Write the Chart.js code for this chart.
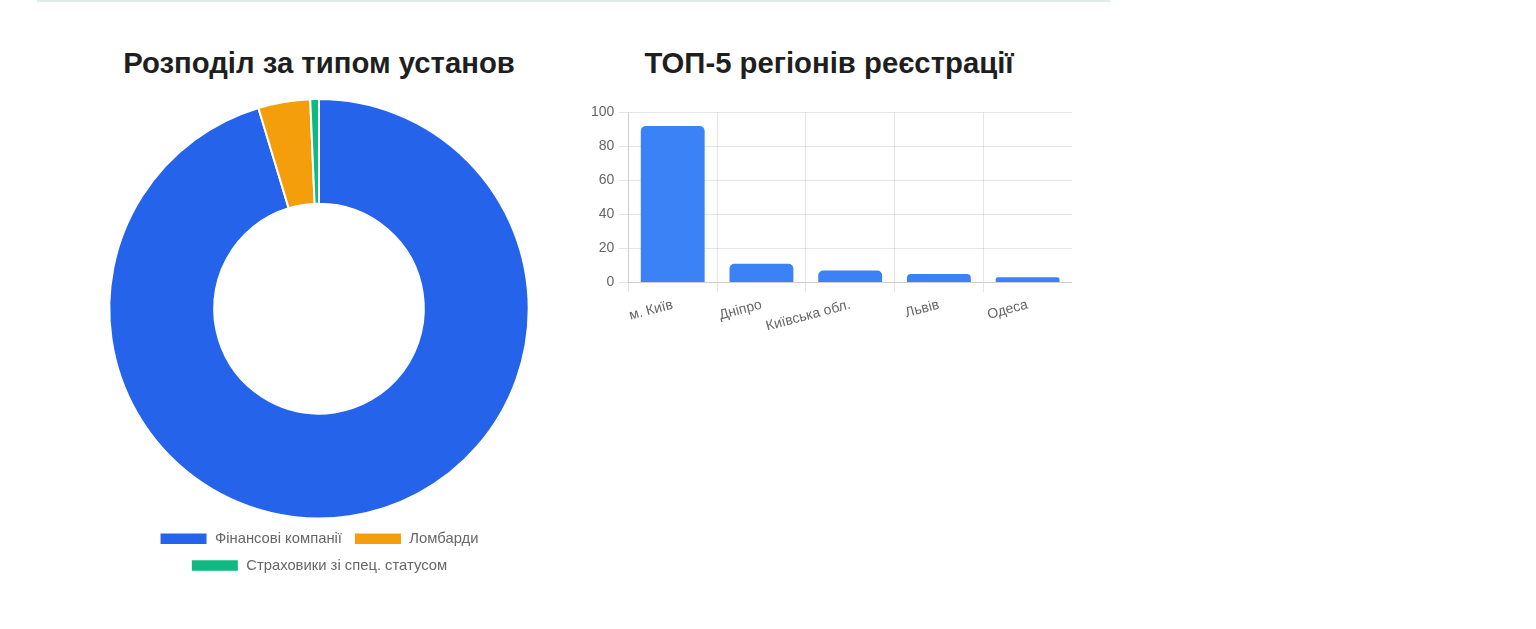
<!DOCTYPE html>
<html lang="uk">
<head>
<meta charset="utf-8">
<script src="https://cdn.jsdelivr.net/npm/chart.js@4.4.1/dist/chart.umd.min.js"></script>
<style>
    body { margin: 0; background: #fff; font-family: "Liberation Sans", Arial, sans-serif; }
    .linha { position: absolute; left: 37px; top: 0; width: 1073px; height: 2px; background: #e0ece6; }
    .titulo { position: absolute; margin: 0; font-size: 29.3px; font-weight: bold; color: #1f1f1f; text-align: center; width: 560px; }
    .caixa { position: absolute; }
</style>
</head>
<body>
<div class="linha"></div>
<h2 class="titulo" style="left:39px; top:46px;">Розподіл за типом установ</h2>
<h2 class="titulo" style="left:549px; top:46px;">ТОП-5 регіонів реєстрації</h2>
<div class="caixa" style="left:74px; top:98px; width:490px; height:485px;"><canvas id="tipoChart"></canvas></div>
<div class="caixa" style="left:587px; top:100px; width:485px; height:239px;"><canvas id="regiaoChart"></canvas></div>
<script>
const tipos = ["Фінансові компанії", "Ломбарди", "Страховики зі спец. статусом"];
const tiposValores = [143, 6, 1];
const tiposCores = ['#2563eb', '#f59e0b', '#10b981'];

const regioes = ["м. Київ", "Дніпро", "Київська обл.", "Львів", "Одеса"];
const regioesValores = [92, 11, 7, 5, 3];

Chart.defaults.font.family = '"Liberation Sans", Arial, sans-serif';
Chart.defaults.font.size = 14;
Chart.defaults.color = '#666';

let getId = (id) => document.getElementById(id);

new Chart(getId('tipoChart').getContext('2d'), {
    type: 'doughnut',
    data: {
        labels: tipos,
        datasets: [{
            data: tiposValores,
            backgroundColor: tiposCores,
            borderColor: '#ffffff',
            borderWidth: 2
        }]
    },
    options: {
        responsive: true,
        maintainAspectRatio: false,
        animation: false,
        plugins: {
            legend: {
                position: 'bottom',
                labels: {
                    boxWidth: 48,
                    boxHeight: 12.5,
                    padding: 12,
                    font: { size: 14.8 }
                }
            }
        }
    }
});

new Chart(getId('regiaoChart').getContext('2d'), {
    type: 'bar',
    data: {
        labels: regioes,
        datasets: [{
            data: regioesValores,
            backgroundColor: '#3b82f6',
            borderRadius: 5
        }]
    },
    options: {
        responsive: true,
        maintainAspectRatio: false,
        animation: false,
        plugins: {
            legend: { display: false }
        },
        scales: {
            x: {
                grid: { tickLength: 10 },
                ticks: { padding: 4 }
            },
            y: {
                beginAtZero: true,
                max: 100,
                grid: { tickLength: 10 },
                ticks: { stepSize: 20, padding: 4 }
            }
        }
    }
});
</script>
</body>
</html>
